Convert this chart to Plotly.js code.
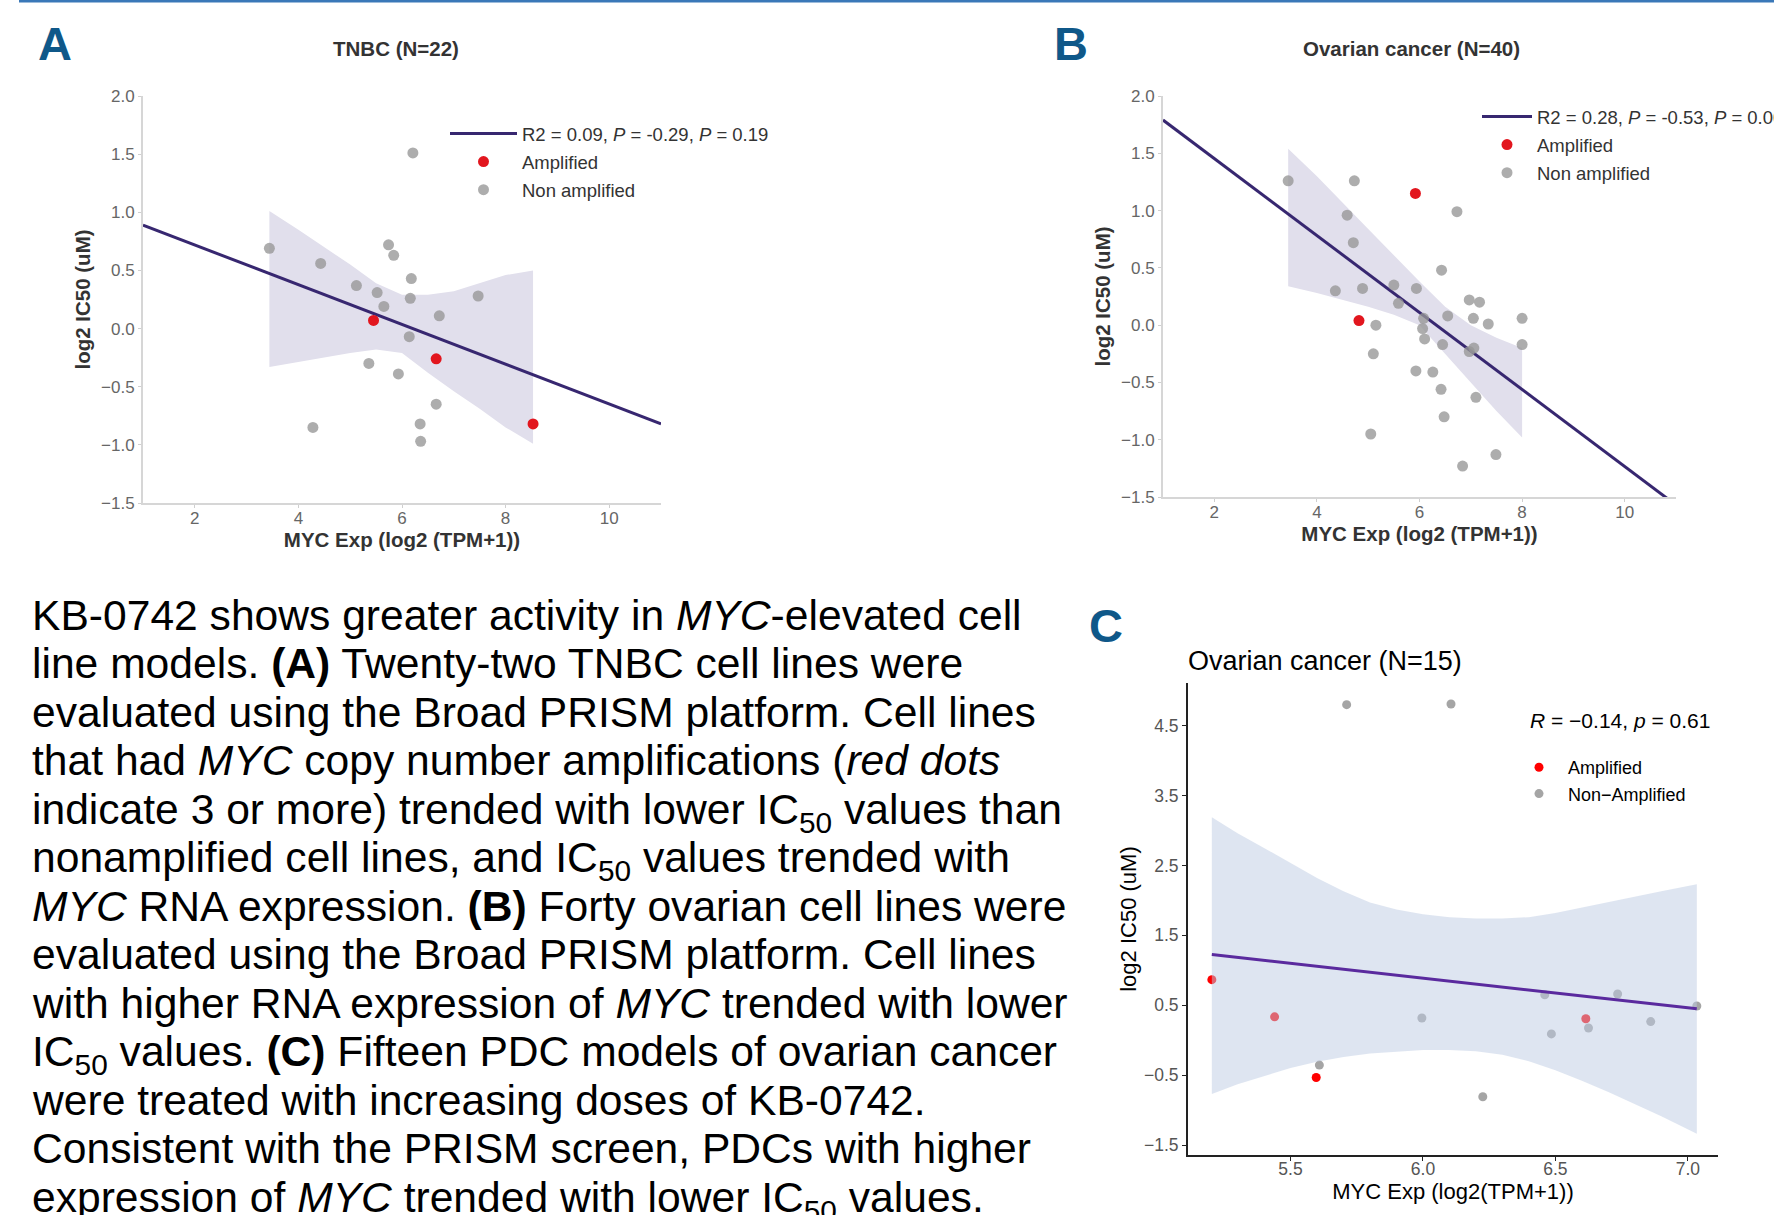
<!DOCTYPE html>
<html>
<head>
<meta charset="utf-8">
<script src="https://cdn.plot.ly/plotly-3.0.1.min.js"></script>
<style>
html,body{margin:0;padding:0;background:#fff;}
#chart{width:1774px;height:1215px;}
</style>
</head>
<body>
<div id="chart"></div>
<script>
// ---------- Panel A: TNBC (N=22) ----------
const tnbcAmpX = [5.45, 6.66, 8.53];
const tnbcAmpY = [0.07, -0.26, -0.82];
const tnbcNonX = [3.44, 4.43, 4.28, 5.12, 5.52, 5.65, 5.74, 5.84, 6.21, 6.18, 6.16, 6.14, 5.36, 5.93, 6.72, 7.47, 6.66, 6.35, 6.36];
const tnbcNonY = [0.69, 0.56, -0.85, 0.37, 0.31, 0.19, 0.72, 0.63, 1.51, 0.43, 0.26, -0.07, -0.30, -0.39, 0.11, 0.28, -0.65, -0.82, -0.97];
const tnbcFitX = [1, 11];
const tnbcFitY = [0.89, -0.82];
const tnbcBandX = [3.44, 4.0, 5.0, 5.5, 6.0, 6.5, 7.0, 7.5, 8.0, 8.53];
const tnbcBandUpper = [1.01, 0.85, 0.55, 0.39, 0.29, 0.29, 0.32, 0.39, 0.46, 0.50];
const tnbcBandLower = [-0.33, -0.29, -0.21, -0.18, -0.21, -0.38, -0.54, -0.69, -0.85, -0.99];
const tnbcFitLabel = 'R2 = 0.09, <i>P</i> = -0.29, <i>P</i> = 0.19';

// ---------- Panel B: Ovarian cancer (N=40) ----------
const ovAmpX = [5.92, 4.82];
const ovAmpY = [1.15, 0.04];
const ovNonX = [3.44, 4.73, 4.59, 4.71, 4.36, 4.89, 5.15, 5.10, 5.05, 5.50, 5.59, 5.94, 6.43, 6.73, 6.08, 6.06, 6.10, 6.55, 6.45, 5.93, 6.26, 6.42, 6.48, 6.97, 7.17, 7.05, 7.34, 6.97, 7.06, 7.10, 6.84, 7.49, 8.00, 8.00];
const ovNonY = [1.26, 1.26, 0.96, 0.72, 0.30, 0.32, 0.00, -0.25, -0.95, 0.35, 0.19, 0.32, 0.48, 0.99, 0.06, -0.03, -0.12, 0.08, -0.17, -0.40, -0.41, -0.56, -0.80, 0.22, 0.20, 0.06, 0.01, -0.23, -0.20, -0.63, -1.23, -1.13, 0.06, -0.17];
const ovFitX = [1, 11];
const ovFitY = [1.79, -1.57];
const ovBandX = [3.44, 4.0, 5.0, 5.5, 6.0, 6.5, 7.0, 7.5, 8.0];
const ovBandUpper = [1.54, 1.30, 0.84, 0.61, 0.38, 0.16, 0.00, -0.11, -0.20];
const ovBandLower = [0.34, 0.28, 0.16, 0.09, 0.00, -0.25, -0.50, -0.75, -0.98];
const ovFitLabel = 'R2 = 0.28, <i>P</i> = -0.53, <i>P</i> = 0.00';

// ---------- Panel C: Ovarian cancer PDC (N=15) ----------
const pdcAmpX = [5.203, 5.44, 5.597, 6.615];
const pdcAmpY = [0.866, 0.334, -0.534, 0.306];
const pdcNonX = [5.712, 6.106, 5.609, 5.996, 6.226, 6.460, 6.485, 6.625, 6.735, 6.860, 7.034];
const pdcNonY = [4.80, 4.81, -0.357, 0.317, -0.809, 0.649, 0.089, 0.174, 0.660, 0.266, 0.489];
const pdcFitX = [5.203, 7.034];
const pdcFitY = [1.226, 0.449];
const pdcBandX = [5.203, 5.3, 5.4, 5.5, 5.6, 5.7, 5.8, 5.9, 6.0, 6.1, 6.2, 6.3, 6.4, 6.5, 6.6, 6.7, 6.8, 6.9, 7.034];
const pdcBandUpper = [3.19, 2.96, 2.75, 2.53, 2.32, 2.13, 1.97, 1.87, 1.80, 1.76, 1.74, 1.74, 1.76, 1.82, 1.90, 1.98, 2.06, 2.13, 2.23];
const pdcBandLower = [-0.77, -0.63, -0.51, -0.40, -0.31, -0.24, -0.19, -0.16, -0.14, -0.14, -0.16, -0.21, -0.30, -0.43, -0.58, -0.74, -0.91, -1.09, -1.34];
const pdcStatLabel = '<i>R</i> = \u22120.14, <i>p</i> = 0.61';

// ---------- Tick labels / texts ----------
const abXTicks = [2, 4, 6, 8, 10];
const abYTicks = [-1.5, -1.0, -0.5, 0.0, 0.5, 1.0, 1.5, 2.0];
const cXTicks = [5.5, 6.0, 6.5, 7.0];
const cYTicks = [-1.5, -0.5, 0.5, 1.5, 2.5, 3.5, 4.5];
const panelTitles = ['TNBC (N=22)', 'Ovarian cancer (N=40)', 'Ovarian cancer (N=15)'];
const panelLetters = ['A', 'B', 'C'];
const captionLines = [
  'KB-0742 shows greater activity in <i>MYC</i>-elevated cell',
  'line models. <b>(A)</b> Twenty-two TNBC cell lines were',
  'evaluated using the Broad PRISM platform. Cell lines',
  'that had <i>MYC</i> copy number amplifications (<i>red dots</i>',
  'indicate 3 or more) trended with lower IC<sub>50</sub> values than',
  'nonamplified cell lines, and IC<sub>50</sub> values trended with',
  '<i>MYC</i> RNA expression. <b>(B)</b> Forty ovarian cell lines were',
  'evaluated using the Broad PRISM platform. Cell lines',
  'with higher RNA expression of <i>MYC</i> trended with lower',
  'IC<sub>50</sub> values. <b>(C)</b> Fifteen PDC models of ovarian cancer',
  'were treated with increasing doses of KB-0742.',
  'Consistent with the PRISM screen, PDCs with higher',
  'expression of <i>MYC</i> trended with lower IC<sub>50</sub> values.'
];

const FONT = 'Liberation Sans, Arial, Helvetica, sans-serif';
const W = 1774, H = 1215;
const px = v => v / W;
const py = v => 1 - v / H;

function band(xs, up, lo) {
  return { x: xs.concat(xs.slice().reverse()), y: up.concat(lo.slice().reverse()) };
}

const bA = band(tnbcBandX, tnbcBandUpper, tnbcBandLower);
const bB = band(ovBandX, ovBandUpper, ovBandLower);
const bC = band(pdcBandX, pdcBandUpper, pdcBandLower);

const abBand = 'rgb(225,223,236)';
const abLine = '#372770';
const abGray = 'rgba(150,150,150,0.78)';
const abRed = 'rgb(226,22,30)';

const traces = [
  // A
  {x: bA.x, y: bA.y, xaxis: 'x', yaxis: 'y', type: 'scatter', mode: 'lines', fill: 'toself',
   fillcolor: abBand, line: {width: 0}, showlegend: false, hoverinfo: 'skip'},
  {x: tnbcFitX, y: tnbcFitY, xaxis: 'x', yaxis: 'y', type: 'scatter', mode: 'lines',
   line: {color: abLine, width: 3}, name: tnbcFitLabel, legend: 'legend', legendgroup: 'a1', legendrank: 1},
  {x: tnbcNonX, y: tnbcNonY, xaxis: 'x', yaxis: 'y', type: 'scatter', mode: 'markers',
   marker: {color: abGray, size: 11}, name: 'Non amplified', legend: 'legend', legendgroup: 'a3', legendrank: 3},
  {x: tnbcAmpX, y: tnbcAmpY, xaxis: 'x', yaxis: 'y', type: 'scatter', mode: 'markers',
   marker: {color: abRed, size: 11}, name: 'Amplified', legend: 'legend', legendgroup: 'a2', legendrank: 2},
  // B
  {x: bB.x, y: bB.y, xaxis: 'x2', yaxis: 'y2', type: 'scatter', mode: 'lines', fill: 'toself',
   fillcolor: abBand, line: {width: 0}, showlegend: false, hoverinfo: 'skip'},
  {x: ovFitX, y: ovFitY, xaxis: 'x2', yaxis: 'y2', type: 'scatter', mode: 'lines',
   line: {color: abLine, width: 3}, name: ovFitLabel, legend: 'legend2', legendgroup: 'b1', legendrank: 1},
  {x: ovNonX, y: ovNonY, xaxis: 'x2', yaxis: 'y2', type: 'scatter', mode: 'markers',
   marker: {color: abGray, size: 11}, name: 'Non amplified', legend: 'legend2', legendgroup: 'b3', legendrank: 3},
  {x: ovAmpX, y: ovAmpY, xaxis: 'x2', yaxis: 'y2', type: 'scatter', mode: 'markers',
   marker: {color: abRed, size: 11}, name: 'Amplified', legend: 'legend2', legendgroup: 'b2', legendrank: 2},
  // C
  {x: pdcNonX, y: pdcNonY, xaxis: 'x3', yaxis: 'y3', type: 'scatter', mode: 'markers',
   marker: {color: 'rgb(165,165,165)', size: 9}, name: 'Non\u2212Amplified', legend: 'legend3', legendrank: 2},
  {x: pdcAmpX, y: pdcAmpY, xaxis: 'x3', yaxis: 'y3', type: 'scatter', mode: 'markers',
   marker: {color: 'rgb(255,0,0)', size: 9}, name: 'Amplified', legend: 'legend3', legendrank: 1},
  {x: bC.x, y: bC.y, xaxis: 'x3', yaxis: 'y3', type: 'scatter', mode: 'lines', fill: 'toself',
   fillcolor: 'rgba(190,204,228,0.5)', line: {width: 0}, showlegend: false, hoverinfo: 'skip'},
  {x: pdcFitX, y: pdcFitY, xaxis: 'x3', yaxis: 'y3', type: 'scatter', mode: 'lines',
   line: {color: '#5a2a9e', width: 3}, showlegend: false}
];

function abAxisX(domain, anchor, standoff) {
  return {domain: domain, anchor: anchor, range: [1, 11], tickvals: abXTicks,
    showline: true, linecolor: '#d6d6d6', linewidth: 2, ticks: 'outside', ticklen: 3, tickcolor: '#cfcfcf',
    ticklabelstandoff: -4,
    showgrid: false, zeroline: false, tickfont: {family: FONT, size: 17, color: '#666'},
    title: {text: '<b>MYC Exp (log2 (TPM+1))</b>', font: {family: FONT, size: 20.5, color: '#333'}, standoff: standoff}};
}
function abAxisY(domain, anchor) {
  return {domain: domain, anchor: anchor, range: [-1.5, 2.0], tickvals: abYTicks, tickformat: '.1f',
    showline: true, linecolor: '#d6d6d6', linewidth: 2, ticks: 'outside', ticklen: 3, tickcolor: '#cfcfcf',
    showgrid: false, zeroline: false, tickfont: {family: FONT, size: 17, color: '#666'},
    title: {text: '<b>log2 IC50 (uM)</b>', font: {family: FONT, size: 20.5, color: '#333'}, standoff: 5}};
}

const annotations = [];
// caption lines
captionLines.forEach((t, i) => {
  annotations.push({xref: 'paper', yref: 'paper', x: px(30), y: py(589 + 48.46 * i),
    xanchor: 'left', yanchor: 'top', showarrow: false, align: 'left', text: t,
    font: {family: FONT, size: 42.6, color: '#000'}});
});
// panel letters
[[36, 15], [1052, 15], [1087, 597]].forEach((p, i) => {
  annotations.push({xref: 'paper', yref: 'paper', x: px(p[0]), y: py(p[1]), xanchor: 'left', yanchor: 'top',
    showarrow: false, text: '<b>' + panelLetters[i] + '</b>', font: {family: FONT, size: 47, color: '#0f5889'}});
});
// panel titles
annotations.push({xref: 'paper', yref: 'paper', x: px(396), y: py(49), xanchor: 'center', yanchor: 'middle',
  showarrow: false, text: '<b>' + panelTitles[0] + '</b>', font: {family: FONT, size: 20.5, color: '#333'}});
annotations.push({xref: 'paper', yref: 'paper', x: px(1411), y: py(49), xanchor: 'center', yanchor: 'middle',
  showarrow: false, text: '<b>' + panelTitles[1] + '</b>', font: {family: FONT, size: 20.5, color: '#333'}});
annotations.push({xref: 'paper', yref: 'paper', x: px(1186), y: py(661), xanchor: 'left', yanchor: 'middle',
  showarrow: false, text: panelTitles[2], font: {family: FONT, size: 27, color: '#000'}});
// stat label C
annotations.push({xref: 'paper', yref: 'paper', x: px(1528), y: py(720), xanchor: 'left', yanchor: 'middle',
  showarrow: false, text: pdcStatLabel, font: {family: FONT, size: 21, color: '#000'}});

const legendBase = {xanchor: 'left', yanchor: 'top', bgcolor: 'rgba(0,0,0,0)', borderwidth: 0,
  font: {family: FONT, size: 18.5, color: '#333'}, tracegroupgap: 1};

const layout = {
  width: W, height: H,
  margin: {l: 0, r: 0, t: 0, b: 0, autoexpand: false},
  paper_bgcolor: '#fff', plot_bgcolor: 'rgba(0,0,0,0)',
  font: {family: FONT},
  xaxis: abAxisX([px(143), px(661)], 'y', 1),
  yaxis: abAxisY([py(503), py(96)], 'x'),
  xaxis2: abAxisX([px(1163), px(1676)], 'y2', 2),
  yaxis2: abAxisY([py(497), py(96)], 'x2'),
  xaxis3: {domain: [px(1188), px(1718)], anchor: 'y3', range: [5.113, 7.114], tickvals: cXTicks, tickformat: '.1f',
    showline: true, linecolor: '#222', linewidth: 2, ticks: 'outside', ticklen: 4, tickcolor: '#222',
    ticklabelstandoff: -7,
    showgrid: false, zeroline: false, tickfont: {family: FONT, size: 17.5, color: '#555'},
    title: {text: 'MYC Exp (log2(TPM+1))', font: {family: FONT, size: 22, color: '#000'}, standoff: 6}},
  yaxis3: {domain: [py(1155), py(683)], anchor: 'x3', range: [-1.643, 5.11], tickvals: cYTicks, tickformat: '.1f',
    showline: true, linecolor: '#222', linewidth: 2, ticks: 'outside', ticklen: 4, tickcolor: '#222',
    showgrid: false, zeroline: false, tickfont: {family: FONT, size: 17.5, color: '#555'},
    title: {text: 'log2 IC50 (uM)', font: {family: FONT, size: 22, color: '#000'}, standoff: 1}},
  legend: Object.assign({}, legendBase, {x: px(445), y: py(115), itemwidth: 67}),
  legend2: Object.assign({}, legendBase, {x: px(1477), y: py(98), itemwidth: 50}),
  legend3: {x: px(1510), y: py(749), xanchor: 'left', yanchor: 'top', bgcolor: 'rgba(0,0,0,0)', borderwidth: 0,
    itemwidth: 48, font: {family: FONT, size: 18, color: '#000'}},
  shapes: [
    {type: 'line', xref: 'paper', yref: 'paper', x0: px(19), x1: 1, y0: py(1), y1: py(1),
     line: {color: '#3a78b8', width: 3}}
  ],
  annotations: annotations,
  showlegend: true
};

Plotly.newPlot('chart', traces, layout, {displayModeBar: false, staticPlot: true});
</script>
</body>
</html>
